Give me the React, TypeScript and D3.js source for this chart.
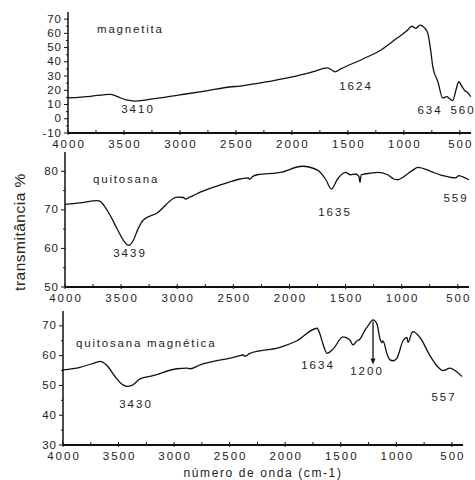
import { useMemo } from 'react';
import { scaleLinear, line, curveMonotoneX, range } from 'd3';

// wavenumber (cm-1), transmittance (%)
const magnetita: [number, number][] = [
  [4000, 14.6], [3800, 15.8], [3625, 17.2], [3560, 15.6], [3480, 13.2], [3400, 12.4],
  [3300, 13.3], [3000, 16.8], [2750, 19.8], [2554, 22.3], [2464, 23], [2200, 26.3],
  [2018, 29], [1800, 33.3], [1688, 35.8], [1650, 34.6], [1616, 33], [1560, 35.2],
  [1366, 42], [1200, 48.5], [1063, 56.5], [970, 62], [929, 65], [893, 63.5],
  [857, 65.8], [820, 64.2], [786, 60], [760, 48], [741, 36.5], [696, 26],
  [652, 14.6], [616, 15.5], [590, 14], [563, 12.7], [535, 20], [509, 26],
  [480, 22.5], [455, 19.7], [430, 18.5], [402, 15.5],
];

const quitosana: [number, number][] = [
  [4000, 71.4], [3866, 71.8], [3714, 72.4], [3687, 72.2], [3640, 70.6], [3598, 68.6],
  [3536, 65.1], [3464, 61.5], [3435, 60.8], [3393, 62], [3350, 65], [3304, 67.3],
  [3179, 69.2], [3000, 73.3], [2945, 73.2], [2925, 72.8], [2890, 73.3], [2857, 73.7],
  [2795, 74.6], [2600, 76.6], [2437, 78], [2366, 78.3], [2355, 77.9], [2330, 78.6],
  [2286, 79.1], [2080, 79.7], [1884, 81.3], [1750, 80.3], [1679, 78], [1625, 75.4],
  [1571, 78], [1500, 79.7], [1455, 79.1], [1411, 79.3], [1380, 78.6], [1372, 77.1],
  [1360, 79.1], [1277, 79.5], [1214, 79.7], [1125, 79.1], [1071, 78], [1036, 77.8],
  [982, 78.6], [900, 80.3], [857, 81], [741, 80], [650, 79], [589, 78.6],
  [520, 78.3], [490, 78.9], [460, 78.6], [400, 77.8],
];

const quitosanaMagnetica: [number, number][] = [
  [4000, 55.2], [3847, 56.1], [3694, 57.8], [3667, 58.1], [3604, 56.7], [3532, 53],
  [3460, 50.2], [3424, 49.7], [3379, 50], [3307, 52.2], [3190, 53.3], [2974, 55.6],
  [2884, 55.8], [2857, 55.6], [2767, 56.9], [2497, 59.2], [2407, 60], [2380, 60.3],
  [2365, 59.8], [2317, 60.8], [2047, 62.8], [1894, 65], [1714, 69.2], [1690, 67.5],
  [1660, 63.9], [1624, 60.8], [1570, 62.2], [1480, 66.3], [1417, 65.2], [1390, 63.6],
  [1354, 65], [1327, 65.6], [1282, 68.6], [1255, 70], [1210, 72], [1174, 70.6],
  [1147, 65.6], [1129, 64.4], [1120, 65], [1084, 60.6], [1057, 58.6], [1030, 58.3],
  [994, 59.2], [940, 65], [904, 66.1], [895, 64.4], [859, 67.8], [850, 68.1],
  [787, 66.1], [697, 60], [620, 56], [580, 55], [517, 55.8], [472, 55], [409, 53],
];

const xTicks = [4000, 3500, 3000, 2500, 2000, 1500, 1000, 500];
const magnetitaTicks = [-10, 0, 10, 20, 30, 40, 50, 60, 70];
const quitosanaTicks = [50, 60, 70, 80];
const quitosanaMagTicks = [30, 40, 50, 60, 70];

const peaks1 = ['3410', '1624', '634', '560'];
const peaks2 = ['3439', '1635', '559'];
const peaks3 = ['3430', '1634', '1200', '557'];

const font = 'Arial, "Liberation Sans", sans-serif';

type PanelProps = {
  data: [number, number][];
  yTicks: number[];
  yDomain: [number, number];
  top: number;
  bottom: number;
  left: number;
  right: number;
  name: string;
  nameX: number;
  nameY: number;
  labels: { text: string; x: number; y: number }[];
  arrowAt?: [number, number, number];
};

const Panel = ({ data, yTicks, yDomain, top, bottom, left, right, name, nameX, nameY, labels, arrowAt }: PanelProps) => {
  const x = useMemo(() => scaleLinear().domain([4000, 400]).range([left, right]), [left, right]);
  const y = useMemo(() => scaleLinear().domain(yDomain).range([bottom, top]), [yDomain, top, bottom]);
  const path = line<[number, number]>()
    .x((d) => x(d[0]))
    .y((d) => y(d[1]))
    .curve(curveMonotoneX)(data);
  const minorX = range(3750, 400, -500);
  const minorY = range(yDomain[0] + 5, yDomain[1], 10);
  const txt = { fontFamily: font, fontSize: 11.5, letterSpacing: 2, fill: '#222' };
  return (
    <g>
      <path d={path || ''} fill="none" stroke="#111" strokeWidth={1.3} />
      <line x1={left} x2={left} y1={top} y2={bottom} stroke="#111" strokeWidth={1.5} />
      <line x1={left} x2={right} y1={bottom} y2={bottom} stroke="#111" strokeWidth={2} />
      {yTicks.map((t) => (
        <g key={t}>
          <line x1={left - 4} x2={left} y1={y(t)} y2={y(t)} stroke="#111" />
          <text x={left - 6} y={y(t) + 3.5} textAnchor="end" {...txt} letterSpacing={1}>
            {t}
          </text>
        </g>
      ))}
      {minorY.map((t) => (
        <line key={t} x1={left - 2} x2={left} y1={y(t)} y2={y(t)} stroke="#111" />
      ))}
      {xTicks.map((t) => (
        <g key={t}>
          <line x1={x(t)} x2={x(t)} y1={bottom - 3} y2={bottom + 2} stroke="#111" />
          <text x={x(t) + 1} y={bottom + 14.5} textAnchor="middle" {...txt}>
            {t}
          </text>
        </g>
      ))}
      {minorX.map((t) => (
        <line key={t} x1={x(t)} x2={x(t)} y1={bottom - 3} y2={bottom} stroke="#111" />
      ))}
      <text x={nameX} y={nameY} {...txt} letterSpacing={1.8}>
        {name}
      </text>
      {labels.map((l) => (
        <text key={l.text} x={l.x} y={l.y} textAnchor="middle" {...txt}>
          {l.text}
        </text>
      ))}
      {arrowAt && (
        <g>
          <line x1={x(arrowAt[0])} x2={x(arrowAt[0])} y1={y(arrowAt[1])} y2={y(arrowAt[2]) - 4} stroke="#111" strokeWidth={1.3} />
          <path
            d={`M${x(arrowAt[0]) - 2.5},${y(arrowAt[2]) - 6} L${x(arrowAt[0]) + 2.5},${y(arrowAt[2]) - 6} L${x(arrowAt[0])},${y(arrowAt[2])} Z`}
            fill="#111"
          />
        </g>
      )}
    </g>
  );
};

const App = () => {
  return (
    <svg width={475} height={480} style={{ position: 'absolute', left: 0, top: 0, background: '#fff' }}>
      <Panel
        data={magnetita}
        yTicks={magnetitaTicks}
        yDomain={[-10, 75]}
        top={12}
        bottom={133}
        left={68}
        right={471}
        name="magnetita"
        nameX={97}
        nameY={33}
        labels={[
          { text: peaks1[0], x: 138, y: 113 },
          { text: peaks1[1], x: 356, y: 90 },
          { text: peaks1[2], x: 430, y: 114 },
          { text: peaks1[3], x: 463, y: 114 },
        ]}
      />
      <Panel
        data={quitosana}
        yTicks={quitosanaTicks}
        yDomain={[50, 85]}
        top={152}
        bottom={287}
        left={65}
        right={469}
        name="quitosana"
        nameX={93}
        nameY={183}
        labels={[
          { text: peaks2[0], x: 130, y: 257 },
          { text: peaks2[1], x: 335, y: 216 },
          { text: peaks2[2], x: 456, y: 202 },
        ]}
      />
      <Panel
        data={quitosanaMagnetica}
        yTicks={quitosanaMagTicks}
        yDomain={[30, 75]}
        top={311}
        bottom={445}
        left={63}
        right={463}
        name="quitosana magnética"
        nameX={76}
        nameY={347}
        labels={[
          { text: peaks3[0], x: 136, y: 408 },
          { text: peaks3[1], x: 318, y: 369 },
          { text: peaks3[2], x: 367, y: 375 },
          { text: peaks3[3], x: 444, y: 401 },
        ]}
        arrowAt={[1210, 71.5, 57]}
      />
      <text
        transform="translate(25,232) rotate(-90)"
        textAnchor="middle"
        fontFamily={font}
        fontSize={15.5}
        letterSpacing={0.5}
        fill="#222"
      >
        transmitância %
      </text>
      <text x={263} y={477} textAnchor="middle" fontFamily={font} fontSize={12} letterSpacing={1.6} fill="#222">
        número de onda  (cm-1)
      </text>
    </svg>
  );
};

export default App;
